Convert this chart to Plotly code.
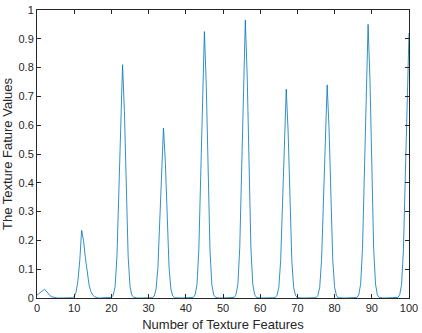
import plotly.graph_objects as go

x_step = 0.5
y_values = [
    0.010, 0.015, 0.020, 0.027, 0.030, 0.024, 0.015, 0.008, 0.004, 0.002, 0.001, 0, 0, 0, 0, 0, 0, 0, 0, 0.001,
    0.005, 0.020, 0.060, 0.130, 0.235, 0.200, 0.140, 0.085, 0.045, 0.022, 0.010, 0.004, 0.001, 0, 0, 0, 0, 0, 0, 0,
    0.002, 0.010, 0.040, 0.146, 0.365, 0.648, 0.810, 0.648, 0.365, 0.146, 0.040, 0.010, 0.002, 0, 0, 0, 0, 0, 0, 0,
    0, 0, 0.001, 0.007, 0.030, 0.106, 0.265, 0.472, 0.590, 0.472, 0.265, 0.106, 0.030, 0.007, 0.001, 0, 0, 0, 0, 0,
    0, 0, 0, 0, 0.002, 0.011, 0.046, 0.167, 0.416, 0.740, 0.925, 0.740, 0.416, 0.167, 0.046, 0.011, 0.002, 0, 0, 0,
    0, 0, 0, 0, 0, 0, 0.002, 0.012, 0.048, 0.174, 0.434, 0.772, 0.965, 0.772, 0.434, 0.174, 0.048, 0.012, 0.002, 0,
    0, 0, 0, 0, 0, 0, 0, 0, 0.001, 0.009, 0.036, 0.130, 0.326, 0.580, 0.725, 0.580, 0.326, 0.130, 0.036, 0.009,
    0.001, 0, 0, 0, 0, 0, 0, 0, 0, 0, 0.001, 0.009, 0.037, 0.133, 0.333, 0.592, 0.740, 0.592, 0.333, 0.133,
    0.037, 0.009, 0.001, 0, 0, 0, 0, 0, 0, 0, 0, 0, 0.002, 0.011, 0.048, 0.171, 0.428, 0.760, 0.950, 0.760,
    0.428, 0.171, 0.048, 0.011, 0.002, 0, 0, 0, 0, 0, 0, 0, 0, 0, 0.002, 0.011, 0.046, 0.166, 0.414, 0.736,
    0.920,
]
x_values = [i * x_step for i in range(len(y_values))]

x_ticks = list(range(0, 101, 10))
y_ticks = [round(i * 0.1, 1) for i in range(11)]
y_tick_labels = ["0", "0.1", "0.2", "0.3", "0.4", "0.5", "0.6", "0.7", "0.8", "0.9", "1"]

fig = go.Figure()
fig.add_trace(go.Scatter(x=x_values, y=y_values, mode="lines",
                         line=dict(color="#0072BD", width=0.8), showlegend=False))

axis_common = dict(showgrid=False, zeroline=False, showline=True, linecolor="#262626",
                   linewidth=1, mirror="allticks", ticks="inside", ticklen=4,
                   ticklabeloverflow="allow",
                   tickcolor="#262626", tickfont=dict(family="Liberation Sans, Arial", size=11, color="#262626"))

fig.update_layout(
    width=422, height=333,
    margin=dict(l=37, r=9, t=4, b=35),
    paper_bgcolor="white", plot_bgcolor="white",
    xaxis=dict(range=[0, 100], tickvals=x_ticks, ticktext=[str(v) for v in x_ticks],
               title=dict(text="Number of Texture Features", standoff=6,
                          font=dict(family="Liberation Sans, Arial", size=13, color="#262626")),
               **axis_common),
    yaxis=dict(range=[0, 1], tickvals=y_ticks, ticktext=y_tick_labels,
               title=dict(text="The Texture Fature Values", standoff=3,
                          font=dict(family="Liberation Sans, Arial", size=13, color="#262626")),
               **axis_common),
)

fig.write_html("out.html", config={"displayModeBar": False},
               post_script="document.body.style.margin='0';document.body.style.overflow='hidden';")
